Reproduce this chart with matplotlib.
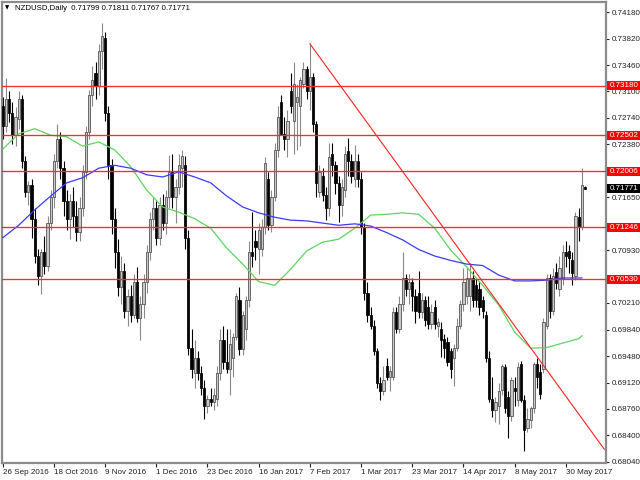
import matplotlib
matplotlib.use("Agg")
import matplotlib.pyplot as plt
from matplotlib.patches import Rectangle

plt.rcParams['font.family'] = ['Liberation Sans', 'DejaVu Sans']

opens = [.7290,.7262,.7300,.7280,.7250,.7272,.7300,.7215,.7172,.7182,
         .7135,.7085,.7058,.7090,.7072,.7130,.7165,.7215,.7245,.7205,
         .7160,.7135,.7160,.7140,.7118,.7150,.7200,.7255,.7305,.7335,
         .7318,.7365,.7383,.7280,.7210,.7135,.7090,.7042,.7065,.7010,
         .7030,.7005,.7050,.7000,.7020,.7050,.7090,.7135,.7150,.7110,
         .7155,.7130,.7165,.7200,.7165,.7180,.7205,.7210,.7110,.6960,
         .6925,.6945,.6925,.6905,.6880,.6890,.6885,.6890,.6925,.6970,
         .6940,.6930,.6945,.6975,.7025,.6958,.6985,.7025,.7090,.7105,
         .7095,.7095,.7125,.7190,.7128,.7165,.7230,.7295,.7252,.7245,
         .7310,.7270,.7295,.7290,.7320,.7340,.7310,.7330,.7265,.7172,
         .7195,.7168,.7150,.7225,.7210,.7185,.7155,.7175,.7228,.7215,
         .7190,.7215,.7190,.7125,.7035,.7005,.6990,.6955,.6912,.6900,
         .6935,.6920,.6920,.7008,.6985,.7020,.7055,.7040,.7050,.7030,
         .7035,.7008,.7025,.7015,.6992,.7015,.6990,.6985,.6972,.6968,
         .6955,.6945,.6960,.6990,.7020,.7030,.7030,.7055,.7045,.7040,
         .7025,.7005,.6946,.6890,.6875,.6880,.6902,.6933,.6893,.6867,
         .6905,.6888,.6938,.6888,.6850,.6861,.6877,.6938,.6926,.6930,
         .6990,.7055,.7010,.7063,.7040,.7055,.7090,.7092,.7080,.7058,
         .7138,.7125,.71799]
highs = [.7302,.7328,.7310,.7295,.7288,.7310,.7305,.7222,.7188,.7190,
         .7150,.7095,.7095,.7112,.7140,.7175,.7225,.7265,.7255,.7215,
         .7175,.7170,.7180,.7160,.7165,.7210,.7262,.7312,.7345,.7350,
         .7375,.7403,.7391,.7290,.7218,.7150,.7108,.7085,.7075,.7040,
         .7045,.7060,.7070,.7030,.7060,.7100,.7145,.7165,.7160,.7165,
         .7170,.7175,.7223,.7225,.7190,.7225,.7230,.7222,.7120,.6985,
         .6970,.6955,.6935,.6915,.6895,.6905,.6905,.6935,.6985,.6990,
         .6985,.6985,.6980,.7035,.7043,.7010,.7030,.7105,.7145,.7120,
         .7130,.7135,.7220,.7200,.7175,.7240,.7290,.7305,.7275,.7285,
         .7335,.7350,.7320,.7330,.7350,.7345,.7375,.7335,.7270,.7210,
         .7205,.7180,.7240,.7240,.7215,.7195,.7190,.7235,.7246,.7225,
         .7237,.7225,.7200,.7130,.7050,.7015,.6998,.6960,.6920,.6935,
         .6945,.6935,.7015,.7015,.7030,.7090,.7060,.7060,.7055,.7040,
         .7065,.7035,.7030,.7030,.7020,.7025,.7000,.6995,.6978,.6975,
         .6960,.6965,.7000,.7025,.7069,.7070,.7075,.7065,.7055,.7050,
         .7030,.7010,.6955,.6920,.6893,.6912,.6938,.6938,.6900,.6920,
         .6920,.6940,.6942,.6895,.6878,.6880,.6940,.6945,.6938,.7000,
         .7060,.7060,.7068,.7075,.7085,.7100,.7105,.7100,.7090,.7145,
         .7150,.7205,.71811]
lows = [.7245,.7255,.7268,.7238,.7235,.7258,.7205,.7165,.7155,.7110,
        .7075,.7045,.7033,.7060,.7065,.7120,.7150,.7205,.7190,.7140,
        .7120,.7108,.7125,.7105,.7105,.7140,.7190,.7245,.7290,.7300,
        .7305,.7340,.7270,.7190,.7115,.7068,.7030,.7020,.7000,.6990,
        .6995,.7000,.6995,.6970,.7000,.7035,.7080,.7120,.7100,.7100,
        .7120,.7115,.7150,.7150,.7130,.7170,.7180,.7095,.6950,.6918,
        .6905,.6915,.6895,.6862,.6870,.6880,.6875,.6880,.6915,.6930,
        .6925,.6895,.6920,.6970,.6950,.6950,.6970,.7015,.7070,.7080,
        .7060,.7085,.7115,.7120,.7118,.7160,.7220,.7250,.7230,.7220,
        .7280,.7225,.7230,.7235,.7315,.7300,.7285,.7255,.7165,.7165,
        .7160,.7134,.7140,.7195,.7170,.7131,.7140,.7165,.7195,.7185,
        .7180,.7180,.7115,.7025,.6995,.6985,.6950,.6905,.6888,.6895,
        .6915,.6900,.6915,.6980,.6980,.7010,.7030,.7020,.7010,.6993,
        .7000,.7000,.6990,.6985,.6985,.6985,.6975,.6947,.6945,.6935,
        .6918,.6908,.6955,.6985,.7010,.7020,.7010,.7015,.7015,.7005,
        .7000,.6940,.6885,.6865,.6858,.6855,.6895,.6870,.6837,.6860,
        .6880,.6880,.6885,.6818,.6845,.6850,.6870,.6905,.6890,.6925,
        .6985,.7000,.7005,.7040,.7030,.7045,.7070,.7062,.7045,.7052,
        .7105,.7120,.71767]
closes = [.7262,.7300,.7280,.7250,.7275,.7300,.7215,.7172,.7182,.7135,
          .7085,.7058,.7090,.7072,.7130,.7165,.7215,.7245,.7205,.7160,
          .7135,.7160,.7140,.7118,.7150,.7200,.7255,.7305,.7325,.7318,
          .7365,.7385,.7280,.7210,.7135,.7090,.7042,.7065,.7010,.7030,
          .7005,.7050,.7000,.7020,.7050,.7090,.7135,.7150,.7110,.7155,
          .7130,.7165,.7200,.7165,.7180,.7210,.7222,.7110,.6960,.6930,
          .6945,.6925,.6905,.6880,.6890,.6885,.6895,.6925,.6970,.6940,
          .6930,.6965,.6975,.7030,.6958,.7005,.7025,.7090,.7085,.7098,
          .7120,.7125,.7212,.7128,.7165,.7230,.7275,.7252,.7245,.7270,
          .7290,.7320,.7302,.7325,.7340,.7310,.7330,.7265,.7185,.7200,
          .7168,.7150,.7220,.7210,.7185,.7155,.7180,.7225,.7215,.7195,
          .7215,.7190,.7125,.7035,.7005,.6990,.6955,.6912,.6900,.6915,
          .6920,.6928,.7008,.6985,.7020,.7055,.7040,.7050,.7030,.7010,
          .7008,.7025,.6998,.6992,.7008,.6992,.6995,.6970,.6960,.6940,
          .6930,.6960,.6990,.7020,.7050,.7055,.7055,.7025,.7025,.7015,
          .7010,.6946,.6890,.6875,.6885,.6900,.6935,.6877,.6867,.6915,
          .6900,.6933,.6888,.6847,.6862,.6878,.6938,.6920,.6897,.6995,
          .7055,.7010,.7058,.7048,.7068,.7090,.7085,.7082,.7062,.7140,
          .7126,.7182,.71771]

ma_idx = [0, 5, 10, 15, 20, 25, 30, 35, 40, 45, 50, 55, 60, 65, 70, 75, 80, 85, 90,
          95, 100, 105, 110, 115, 120, 125, 130, 135, 140, 145, 150, 155, 160, 165,
          170, 175, 180, 181]
ma_green = [0.7231, 0.7252, 0.7259, 0.7250, 0.7248, 0.7235, 0.7241, 0.7230, 0.7207,
            0.7175, 0.7152, 0.7145, 0.7136, 0.7123, 0.7096, 0.7074, 0.7050, 0.7045,
            0.7067, 0.7092, 0.7104, 0.7108, 0.7123, 0.7141, 0.7142, 0.7144, 0.7142,
            0.7123, 0.7093, 0.7070, 0.7045, 0.7018, 0.6981, 0.6959, 0.6960, 0.6966,
            0.6972, 0.6976]
ma_blue = [0.7110, 0.7127, 0.7148, 0.7167, 0.7185, 0.7192, 0.7205, 0.7209, 0.7205,
           0.7196, 0.7193, 0.7200, 0.7193, 0.7185, 0.7167, 0.7152, 0.7144, 0.7138,
           0.7134, 0.7133, 0.7130, 0.7127, 0.7129, 0.7126, 0.7117, 0.7107, 0.7094,
           0.7085, 0.7079, 0.7074, 0.7072, 0.7059, 0.7051, 0.7051, 0.7052, 0.7055,
           0.7055, 0.7055]

date_idx = [0, 16, 32, 48, 64, 80, 96, 112, 128, 144, 160, 176]
date_labels = ['26 Sep 2016', '18 Oct 2016', '9 Nov 2016', '1 Dec 2016', '23 Dec 2016',
               '16 Jan 2017', '7 Feb 2017', '1 Mar 2017', '23 Mar 2017', '14 Apr 2017',
               '8 May 2017', '30 May 2017']
price_ticks = [0.74180, 0.73820, 0.73460, 0.73100, 0.72740, 0.72380, 0.72020, 0.71650,
               0.71290, 0.70930, 0.70570, 0.70210, 0.69840, 0.69480, 0.69120, 0.68760,
               0.68400, 0.68040]
# labels hidden behind the level boxes in the reference are left blank
price_tick_labels = ['0.74180', '0.73820', '0.73460', '0.73100', '0.72740', '0.72380', '',
                     '0.71650', '', '0.70930', '', '0.70210', '0.69840', '0.69480',
                     '0.69120', '0.68760', '0.68400', '0.68040']
levels = [0.73180, 0.72502, 0.72006, 0.71246, 0.70530]
trend_idx = [96, 188]
trend_price = [0.73750, 0.68210]
last_price = 0.71771

W, H = 640, 480
fig = plt.figure(figsize=(6.4, 4.8), dpi=100)
fig.patch.set_facecolor('white')
ax = fig.add_axes([2 / W, 1 - 463 / H, (605.7 - 2) / W, (463 - 2) / H])
ax.set_xlim(-0.22, 188.44)
ax.set_ylim(0.68022, 0.74321)

n = len(closes)
idx = list(range(n))
wick_col = ['#8a8a8a' if c >= o else 'black' for o, c in zip(opens, closes)]
ax.vlines(idx, lows, highs, colors=wick_col, linewidth=0.8, zorder=2)
for i in idx:
    o, c = opens[i], closes[i]
    lo = min(o, c)
    h = max(abs(c - o), 0.00006)
    if c >= o:
        fc, ec = '#c8c8c8', '#4a4a4a'
    else:
        fc, ec = 'black', 'black'
    ax.add_patch(Rectangle((i - 0.36, lo), 0.72, h, facecolor=fc, edgecolor=ec,
                           linewidth=0.55, zorder=3))

ax.plot(ma_idx, ma_green, color='#5cd65c', linewidth=0.9, zorder=4)
ax.plot(ma_idx, ma_blue, color='#3a3aff', linewidth=0.9, zorder=4)
ax.plot(trend_idx, trend_price, color='#ff2020', linewidth=0.8, zorder=5)
for lv in levels:
    ax.axhline(lv, color='#ff2a2a', linewidth=0.95, zorder=5)

for s in ax.spines.values():
    s.set_color('#8c8c8c')
    s.set_linewidth(1.6)

ax.yaxis.tick_right()
ax.set_yticks(price_ticks)
ax.set_yticklabels(price_tick_labels)
ax.tick_params(axis='y', length=2.5, width=0.8, colors='#202020', labelsize=5.8, pad=1.5)
ax.set_xticks(date_idx)
ax.set_xticklabels(date_labels)
ax.tick_params(axis='x', length=3, width=0.8, colors='#202020', labelsize=5.8, pad=1.5)
for lab in ax.get_xticklabels():
    lab.set_horizontalalignment('left')

fig.canvas.draw()
def add_box(price, text, color):
    yd = ax.transData.transform((0, price))[1]
    fig.add_artist(Rectangle((606.5 / W, (yd - 4.5) / H), 34 / W, 9 / H,
                             transform=fig.transFigure, facecolor=color,
                             edgecolor='none', zorder=10))
    fig.text(609.5 / W, yd / H, text, color='white', fontsize=5.8,
             va='center', ha='left', zorder=11)

for lv in levels:
    add_box(lv, '%.5f' % lv, '#ff0000')
add_box(last_price, '%.5f' % last_price, 'black')

fig.text(5 / W, 1 - 8 / H, '\u25bc', fontsize=4, va='center', ha='left',
         family=['DejaVu Sans'])
fig.text(15 / W, 1 - 8 / H, 'NZDUSD,Daily  0.71799 0.71811 0.71767 0.71771',
         fontsize=5.6, va='center', ha='left', color='black')

fig.savefig('out.png', dpi=100)
